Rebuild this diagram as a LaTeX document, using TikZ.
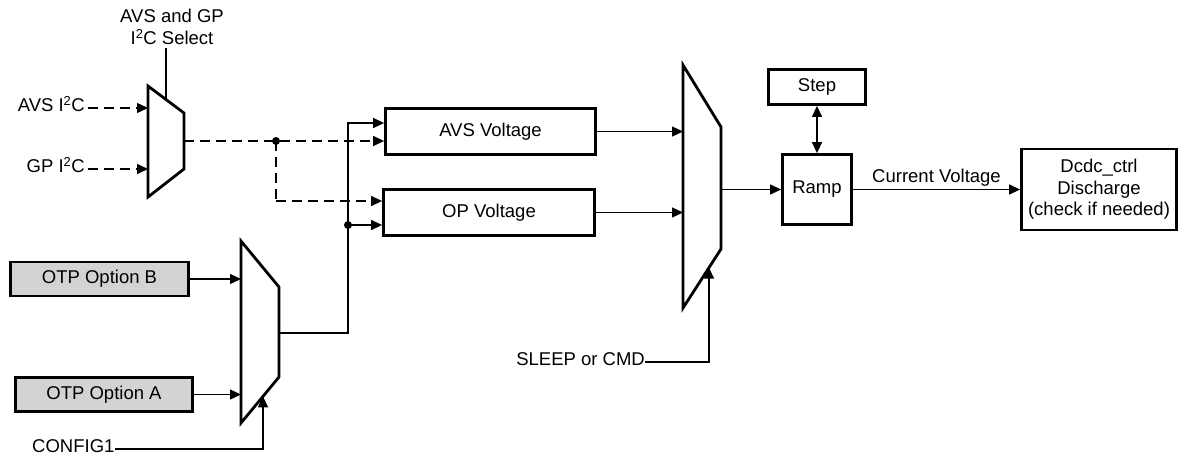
\documentclass[tikz,border=0pt]{standalone}
\usepackage{fontspec}
\setmainfont{Liberation Sans}
\usetikzlibrary{arrows.meta,calc}
\definecolor{optgray}{RGB}{211,211,211}
\begin{document}
\begin{tikzpicture}[x=1pt,y=-1pt,
  every node/.style={font=\fontsize{18.5}{21.5}\selectfont, inner sep=0pt},
  blk/.style={draw, line width=2.8pt, align=center},
  optbox/.style={blk, fill=optgray},
  mux/.style={draw, line width=2.8pt, line join=miter},
  wire/.style={line width=1.3pt},
  arr/.style={wire, -{Triangle[length=11pt,width=10pt]}},
  biarr/.style={wire, {Triangle[length=11pt,width=10pt]}-{Triangle[length=11pt,width=10pt]}},
  darr/.style={arr, dash pattern=on 10pt off 6pt},
  dline/.style={wire, dash pattern=on 10pt off 6pt},
  jdot/.style={circle, fill, minimum size=8pt, inner sep=0pt}
]
\useasboundingbox (0,0) rectangle (1180,461);

% ---------- multiplexer 1 (I2C select)
\coordinate (m1a) at (148,86);
\coordinate (m1b) at (184,113);
\coordinate (m1c) at (184,169);
\coordinate (m1d) at (148,197);
\draw[mux] (m1a) -- (m1b) -- (m1c) -- (m1d) -- cycle;
\coordinate (m1in1) at (148,108);
\coordinate (m1in2) at (148,169);
\coordinate (m1out) at (184,141);
\coordinate (m1sel) at ($(m1a)!0.5!(m1b)$);
\coordinate (m1selt) at (166,48);

% ---------- multiplexer 2 (OTP option)
\coordinate (m2a) at (241,241);
\coordinate (m2b) at (279,287);
\coordinate (m2c) at (279,377);
\coordinate (m2d) at (241,423);
\draw[mux] (m2a) -- (m2b) -- (m2c) -- (m2d) -- cycle;
\coordinate (m2out) at (279,333);
\coordinate (m2sel) at (263,396.4);

% ---------- multiplexer 3
\coordinate (m3a) at (683,65);
\coordinate (m3b) at (721,127);
\coordinate (m3c) at (721,249);
\coordinate (m3d) at (683,308);
\draw[mux] (m3a) -- (m3b) -- (m3c) -- (m3d) -- cycle;
\coordinate (m3out) at (721,189.5);
\coordinate (m3sel) at (709,267.6);

% ---------- boxes
\node[blk, minimum width=210pt, minimum height=46pt] (avs) at (490.5,131.5) {AVS Voltage};
\node[blk, minimum width=211pt, minimum height=46pt] (op) at (489,212.5) {OP Voltage};
\node[optbox, minimum width=178pt, minimum height=34pt] (optB) at (99.5,279) {OTP Option B};
\node[optbox, minimum width=177pt, minimum height=34pt] (optA) at (104,394.5) {OTP Option A};
\node[blk, minimum width=69pt, minimum height=70pt] (ramp) at (817,189.5) {Ramp};
\node[blk, minimum width=97pt, minimum height=35pt] (step) at (817,87) {Step};
\node[blk, minimum width=155pt, minimum height=81pt] (dcdc) at (1099,189.5) {Dcdc\_ctrl\\Discharge\\(check if needed)};

% ---------- text labels
\node[align=center, font=\fontsize{18.5}{22}\selectfont] (selT) at (172,27) {AVS and GP\\I\textsuperscript{2}C Select};
\node[anchor=mid east] (avsi) at (85,109) {AVS I\textsuperscript{2}C};
\node[anchor=mid east] (gpi) at (85,170) {GP I\textsuperscript{2}C};
\node[anchor=mid west] (cfg) at (32,450) {CONFIG1};
\node[anchor=mid east] (sleep) at (645,363) {SLEEP or CMD};

% ---------- junctions
\coordinate (j1) at (276,141);
\coordinate (j2) at (348,225);
\coordinate (avsin) at ($(avs.west)+(0,-8.5)$);
\coordinate (opd) at ($(op.west)+(0,-11.5)$);

% ---------- connectors
\draw[wire] (m1sel) -- (m1selt);
\draw[darr] ([xshift=3pt]avsi.east |- m1in1) -- (m1in1);
\draw[darr] ([xshift=3pt]gpi.east |- m1in2) -- (m1in2);
\draw[darr] (m1out) -- (avs.west |- m1out);
\draw[dline] (j1) -- (j1 |- opd);
\draw[darr] (j1 |- opd) -- (opd);
\node[jdot] at (j1) {};

\draw[arr] (optB.east) -- (optB.east -| m2a);
\draw[arr] (optA.east) -- (optA.east -| m2a);
\draw[arr] (cfg.east |- 0,449) -| (m2sel);

\draw[wire] (m2out) -| (j2);
\draw[arr] (j2) |- (avsin);
\draw[arr] (j2) -- (op.west |- j2);
\node[jdot] at (j2) {};

\draw[arr] (avs.east) -- (avs.east -| m3a);
\draw[arr] (op.east) -- (op.east -| m3a);
\draw[arr] (sleep.east |- 0,362) -| (m3sel);
\draw[arr] (m3out) -- (ramp.west);
\draw[biarr] (step.south) -- (ramp.north);
\draw[arr] (ramp.east) -- node[above=2.5pt] {Current Voltage} (dcdc.west);
\end{tikzpicture}
\end{document}
